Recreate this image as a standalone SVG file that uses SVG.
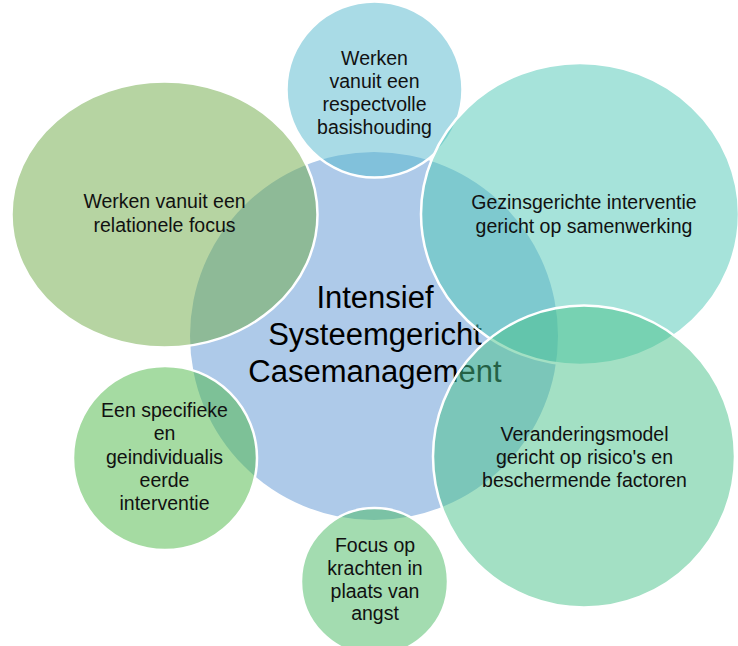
<svg xmlns="http://www.w3.org/2000/svg" width="738" height="646" viewBox="0 0 738 646">
<style>
.bub{stroke:#ffffff;stroke-width:2.5;fill-opacity:0.5}
.t{font-family:"Liberation Sans",Arial,sans-serif;font-size:19.5px;fill:#111111;text-anchor:middle}
.c{font-family:"Liberation Sans",Arial,sans-serif;font-size:31px;fill:#000000;text-anchor:middle}
</style>
<rect width="738" height="646" fill="#ffffff"/>
<g id="center">
<circle cx="374" cy="336" r="184" fill="#AECAE9"/>
<text class="c" x="375" y="308">Intensief</text>
<text class="c" x="375" y="345">Systeemgericht</text>
<text class="c" x="375" y="382">Casemanagement</text>
</g>
<g id="connectors"></g>
<g id="top">
<circle class="bub" cx="374.5" cy="89.5" r="88" fill="#53B7CD"/>
<text class="t" x="374.5" y="65">Werken</text>
<text class="t" x="374.5" y="88">vanuit een</text>
<text class="t" x="374.5" y="110.5">respectvolle</text>
<text class="t" x="374.5" y="133.5">basishouding</text>
</g>
<g id="top-right">
<ellipse class="bub" cx="580" cy="214" rx="159" ry="151" fill="#4DC7B5"/>
<text class="t" x="584" y="209">Gezinsgerichte interventie</text>
<text class="t" x="584" y="232.5">gericht op samenwerking</text>
</g>
<g id="bottom-right">
<circle class="bub" cx="584" cy="456.5" r="151" fill="#47C189"/>
<text class="t" x="584.5" y="441">Veranderingsmodel</text>
<text class="t" x="584.5" y="464">gericht op risico's en</text>
<text class="t" x="584.5" y="487">beschermende factoren</text>
</g>
<g id="bottom">
<circle class="bub" cx="374.5" cy="581.5" r="73.5" fill="#47B961"/>
<text class="t" x="375" y="552">Focus op</text>
<text class="t" x="375" y="574.5">krachten in</text>
<text class="t" x="375" y="597.5">plaats van</text>
<text class="t" x="375" y="619.5">angst</text>
</g>
<g id="bottom-left">
<circle class="bub" cx="165" cy="458" r="92" fill="#4BB745"/>
<text class="t" x="164.5" y="417">Een specifieke</text>
<text class="t" x="164.5" y="440">en</text>
<text class="t" x="164.5" y="463.5">geindividualis</text>
<text class="t" x="164.5" y="487">eerde</text>
<text class="t" x="164.5" y="509.5">interventie</text>
</g>
<g id="top-left">
<ellipse class="bub" cx="164.5" cy="214.5" rx="153" ry="133" fill="#6DA945"/>
<text class="t" x="164.5" y="208">Werken vanuit een</text>
<text class="t" x="164.5" y="232">relationele focus</text>
</g>
</svg>
